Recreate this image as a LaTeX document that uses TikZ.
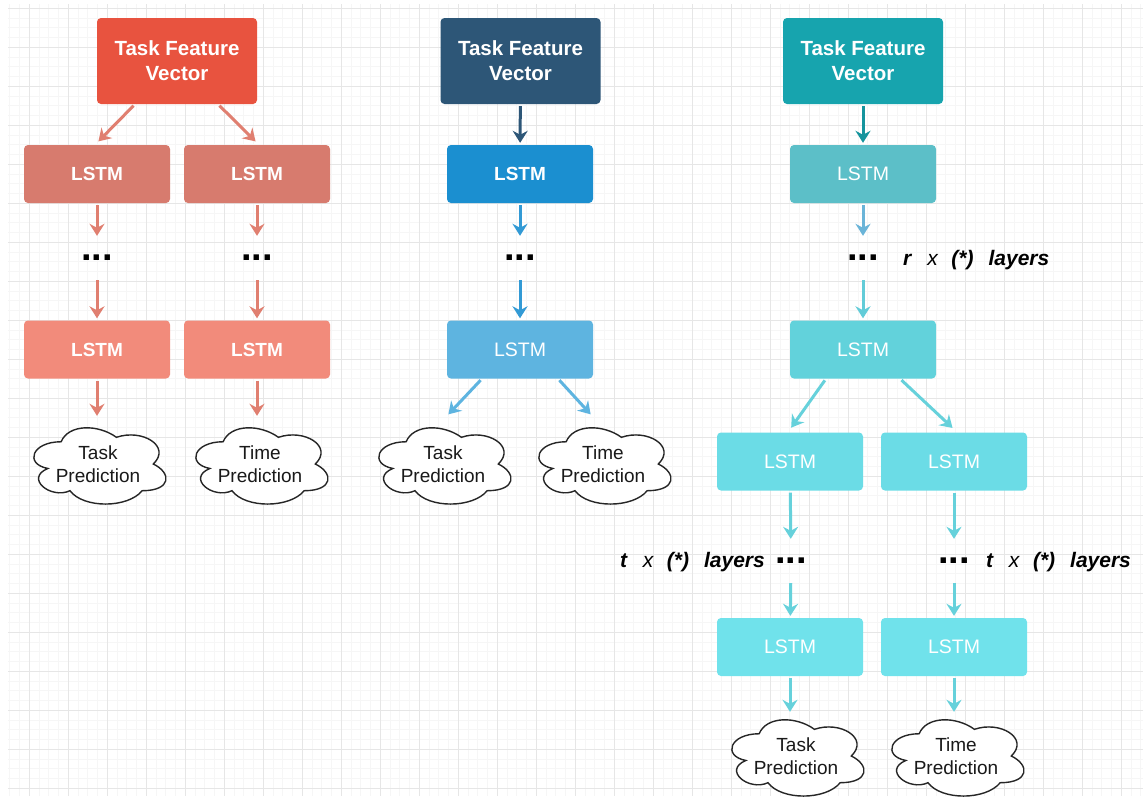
\documentclass[tikz,border=0pt]{standalone}
\usepackage{fontspec}
\setmainfont{Liberation Sans}
\usetikzlibrary{arrows.meta}

% column palettes
\definecolor{redTop}{HTML}{E8533F}
\definecolor{redA}{HTML}{D77B6E}
\definecolor{redB}{HTML}{F28B7B}
\definecolor{redArr}{HTML}{E07F70}
\definecolor{navyTop}{HTML}{2D5677}
\definecolor{blueA}{HTML}{1B8FD0}
\definecolor{blueB}{HTML}{5EB4E0}
\definecolor{tealTop}{HTML}{17A4AE}
\definecolor{tealA}{HTML}{5CBFC8}
\definecolor{tealB}{HTML}{62D2DB}
\definecolor{tealC}{HTML}{6BDCE6}
\definecolor{tealD}{HTML}{70E2EB}
\definecolor{gridMajor}{HTML}{E6E6E6}
\definecolor{gridMinor}{HTML}{F6F6F6}

\tikzset{
  topbox/.style={rounded corners=4pt, minimum width=160pt, minimum height=86pt,
    inner sep=0pt, text=white, align=center,
    font=\fontsize{20.5}{25}\selectfont\bfseries},
  lstm/.style={rounded corners=4pt, minimum width=146pt, minimum height=58pt,
    inner sep=0pt, text=white, font=\fontsize{19.5}{22}\selectfont},
  lstmb/.style={lstm, font=\fontsize{19}{22}\selectfont\bfseries},
  dotsnode/.style={minimum height=40pt, minimum width=30pt, inner sep=0pt,
    font=\fontsize{38}{38}\selectfont\bfseries},
  predtext/.style={minimum width=132pt, minimum height=76pt, inner sep=0pt,
    align=center, text=black!90, font=\fontsize{19}{23}\selectfont},
  cloudline/.style={draw=black!85, line width=1.4pt, fill=white},
  layerlbl/.style={inner sep=0pt, font=\fontsize{21}{24}\selectfont},
  arr/.style={line width=3pt, -{Stealth[length=12pt,width=15pt,inset=4pt]},
    shorten <=2pt, shorten >=2pt},
}
\newcommand{\layerstext}[1]{\textbf{\textit{#1}}\hspace{15pt}\textit{x}\hspace{13pt}\textbf{\textit{(*)}}\hspace{15pt}\textbf{\textit{layers}}}

% six-lobed cloud outline centred on (#1,#2)
\newcommand{\cloudoutline}[2]{%
  \begin{scope}[shift={({#1-73.75},{#2-44.5})}, x=147.5pt, y=-89pt]
    \path[cloudline] (0.25,0.25)
      .. controls (0.05,0.25) and (0,0.5) .. (0.16,0.55)
      .. controls (0,0.66) and (0.18,0.9) .. (0.31,0.8)
      .. controls (0.4,1) and (0.7,1) .. (0.8,0.8)
      .. controls (1,0.8) and (1,0.6) .. (0.875,0.5)
      .. controls (1,0.3) and (0.8,0.1) .. (0.625,0.2)
      .. controls (0.5,0.05) and (0.3,0.05) .. (0.25,0.25) -- cycle;
  \end{scope}}

\begin{document}
\begin{tikzpicture}[x=1pt,y=-1pt]
\useasboundingbox (0,0) rectangle (1143,796);
\fill[white] (0,0) rectangle (1143,796);

% background grid
\begin{scope}
\clip (8,4) rectangle (1143,796);
\foreach \i in {0,...,116} {
  \pgfmathsetmacro\gx{9.8+9.75*\i}
  \draw[gridMinor, line width=0.8pt] (\gx,4) -- (\gx,796);
}
\foreach \i in {0,...,81} {
  \pgfmathsetmacro\gy{8.3+9.75*\i}
  \draw[gridMinor, line width=0.8pt] (8,\gy) -- (1143,\gy);
}
\foreach \i in {0,...,28} {
  \pgfmathsetmacro\gx{29.3+39*\i}
  \draw[gridMajor, line width=1pt] (\gx,4) -- (\gx,796);
}
\foreach \i in {0,...,20} {
  \pgfmathsetmacro\gy{8.3+39*\i}
  \draw[gridMajor, line width=1pt] (8,\gy) -- (1143,\gy);
}
\end{scope}

% ---------- left: two separate stacks ----------
\node[topbox, fill=redTop] (tfvA) at (177,61) {Task Feature\\Vector};
\node[lstmb, fill=redA] (lA1) at (97,174) {LSTM};
\node[lstmb, fill=redA] (lB1) at (257,174) {LSTM};
\node[dotsnode] (dA) at (97,258) {...};
\node[dotsnode] (dB) at (257,258) {...};
\node[lstmb, fill=redB] (lA2) at (97,349.5) {LSTM};
\node[lstmb, fill=redB] (lB2) at (257,349.5) {LSTM};
\cloudoutline{98}{464}
\node[predtext] (cA) at (98,464) {Task\\Prediction};
\cloudoutline{260}{464}
\node[predtext] (cB) at (260,464) {Time\\Prediction};

\draw[arr, redArr] ([xshift=-42pt]tfvA.south) -- ([yshift=2pt]lA1.north);
\draw[arr, redArr] ([xshift=41pt]tfvA.south) -- ([yshift=2pt]lB1.north);
\draw[arr, redArr] (lA1) -- (dA);
\draw[arr, redArr] (lB1) -- (dB);
\draw[arr, redArr] (dA) -- (lA2);
\draw[arr, redArr] (dB) -- (lB2);
\draw[arr, redArr, shorten >=10pt] (lA2.south) -- ([xshift=-1pt]cA.north);
\draw[arr, redArr, shorten >=10pt] (lB2.south) -- ([xshift=-3pt]cB.north);

% ---------- middle: shared stack, two heads ----------
\node[topbox, fill=navyTop] (tfvB) at (520.5,61) {Task Feature\\Vector};
\node[lstmb, fill=blueA] (lC1) at (520,174) {LSTM};
\node[dotsnode] (dC) at (520,258) {...};
\node[lstm, fill=blueB] (lC2) at (520,349.5) {LSTM};
\cloudoutline{443}{464}
\node[predtext] (cC) at (443,464) {Task\\Prediction};
\cloudoutline{603}{464}
\node[predtext] (cD) at (603,464) {Time\\Prediction};

\draw[arr, navyTop] (tfvB) -- (lC1);
\draw[arr, blueA!90!white] (lC1) -- (dC);
\draw[arr, blueA!90!white] (dC) -- (lC2);
\draw[arr, blueB] ([xshift=-38pt]lC2.south) -- ([xshift=4pt,yshift=10pt]cC.north);
\draw[arr, blueB] ([xshift=38pt]lC2.south) -- ([xshift=-11pt,yshift=10pt]cD.north);

% ---------- right: shared stack, then two branch stacks ----------
\node[topbox, fill=tealTop] (tfvC) at (863,61) {Task Feature\\Vector};
\node[lstm, fill=tealA] (lD1) at (863,174) {LSTM};
\node[dotsnode] (dD) at (863,258) {...};
\node[layerlbl, anchor=base west] (rl) at (903,265) {\layerstext{r}};
\node[lstm, fill=tealB] (lD2) at (863,349.5) {LSTM};
\node[lstm, fill=tealC] (lE1) at (790,461.5) {LSTM};
\node[lstm, fill=tealC] (lF1) at (954,461.5) {LSTM};
\node[dotsnode] (dE) at (791,561) {...};
\node[dotsnode] (dF) at (954,561) {...};
\node[layerlbl, anchor=base east] (tlE) at (765,567) {\layerstext{t}};
\node[layerlbl, anchor=base west] (tlF) at (986,567) {\layerstext{t}};
\node[lstm, fill=tealD] (lE2) at (790,647) {LSTM};
\node[lstm, fill=tealD] (lF2) at (954,647) {LSTM};
\cloudoutline{796}{756}
\node[predtext] (cE) at (796,756) {Task\\Prediction};
\cloudoutline{956}{756}
\node[predtext] (cF) at (956,756) {Time\\Prediction};

\draw[arr, tealTop!90!black] (tfvC) -- (lD1);
\draw[arr, color={rgb,255:red,106;green,180;blue,216}] (lD1) -- (dD);
\draw[arr, color={rgb,255:red,98;green,204;blue,216}] (dD) -- (lD2);
\draw[arr, tealC!95!black] ([xshift=-37pt]lD2.south) -- ([yshift=3pt]lE1.north);
\draw[arr, tealC!95!black] ([xshift=37pt]lD2.south) -- ([yshift=3pt]lF1.north);
\draw[arr, tealC!95!black] (lE1) -- (dE);
\draw[arr, tealC!95!black] (lF1) -- (dF);
\draw[arr, tealC!95!black] (dE) -- (lE2);
\draw[arr, tealC!95!black] (dF) -- (lF2);
\draw[arr, tealC!95!black, shorten >=6pt] (lE2.south) -- ([xshift=-6pt]cE.north);
\draw[arr, tealC!95!black, shorten >=6pt] (lF2.south) -- ([xshift=-2pt]cF.north);
\end{tikzpicture}
\end{document}
